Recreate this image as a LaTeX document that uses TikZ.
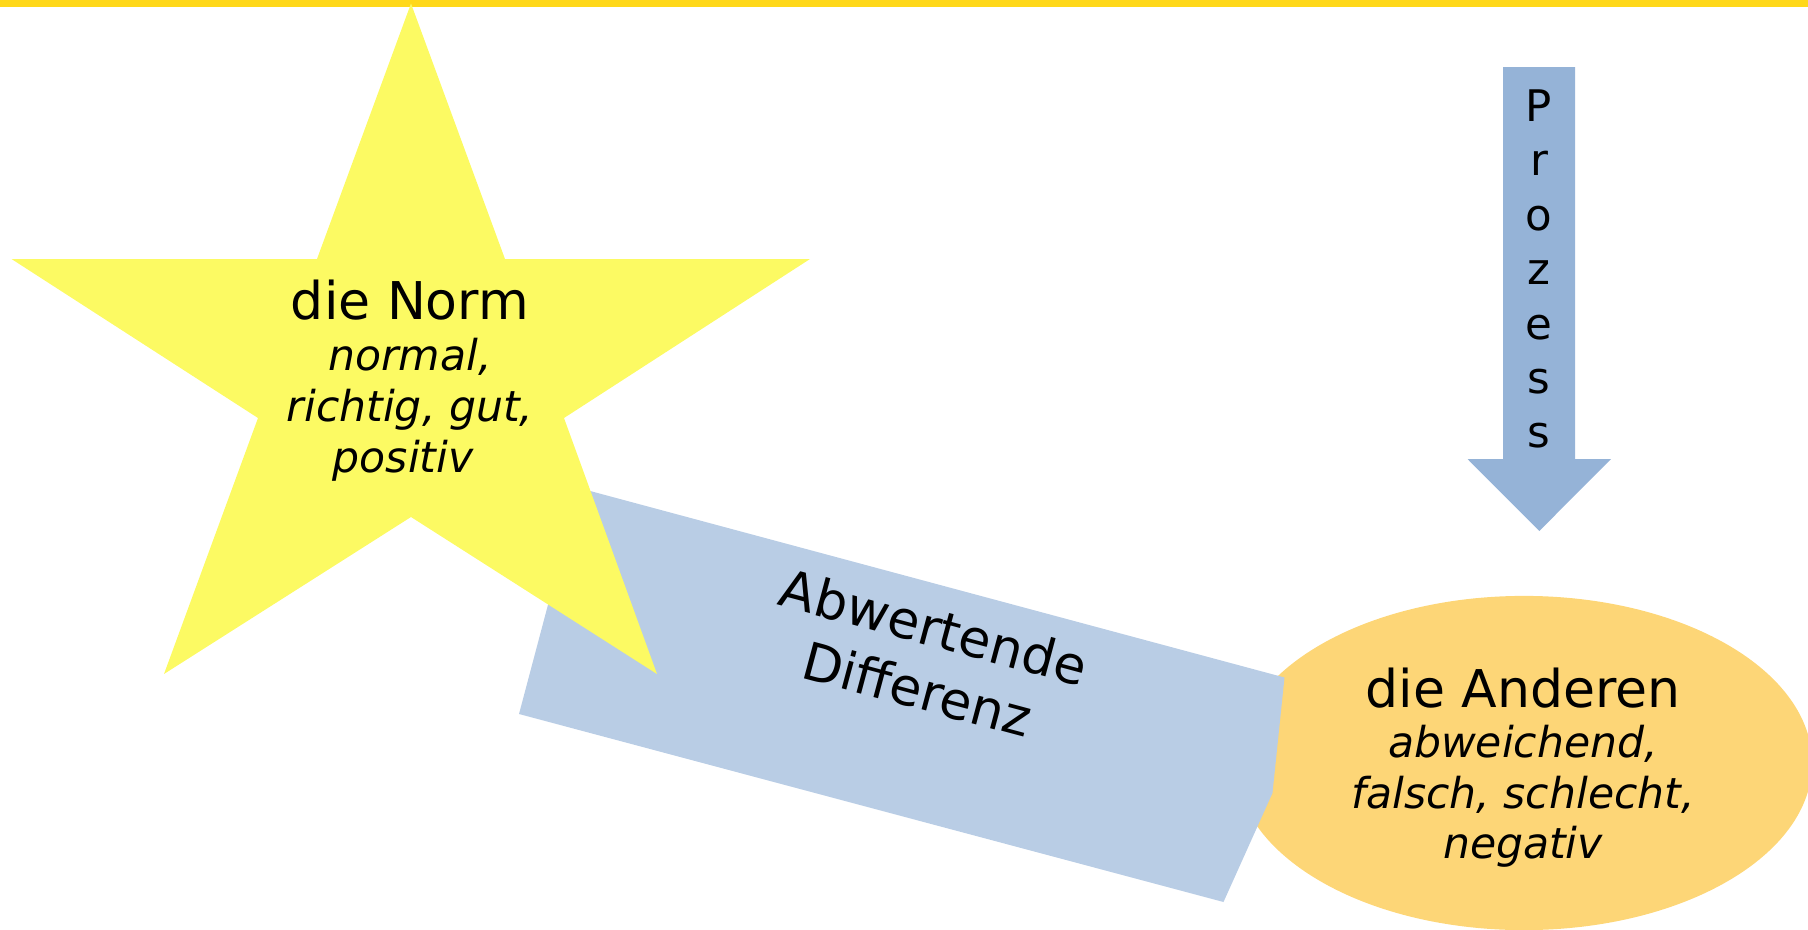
\documentclass[tikz,border=0pt]{standalone}
\usepackage{fontspec}
\setmainfont{DejaVu Sans}
\definecolor{topbar}{RGB}{255,216,26}
\definecolor{starfill}{RGB}{252,250,99}
\definecolor{rectfill}{RGB}{185,205,229}
\definecolor{arrowfill}{RGB}{149,179,215}
\definecolor{ellfill}{RGB}{253,214,119}
\begin{document}
\begin{tikzpicture}[x=0.01cm,y=-0.01cm,
  txt/.style={inner sep=0pt, outer sep=0pt, align=center, text=black},
  bigtxt/.style={txt, font=\fontsize{14.8pt}{18.2pt}\selectfont},
  starfont/.style={txt, font=\fontsize{12.1pt}{14.51pt}\selectfont\itshape},
  ellfont/.style={txt, font=\fontsize{12.1pt}{14.37pt}\selectfont\itshape},
  profont/.style={txt, font=\fontsize{12.38pt}{15.48pt}\selectfont}]
\useasboundingbox (0,0) rectangle (1808,930);
% top bar
\fill[topbar] (0,0) rectangle (1808,6.5);
% ellipse (die Anderen)
\fill[ellfill] (1524,763) ellipse [x radius=2.88cm, y radius=1.67cm];
% blue band (Abwertende Differenz)
\fill[rectfill] (579,488) -- (1284.5,677.5) -- (1272.5,793) -- (1223.5,902) -- (519,714) -- cycle;
% star (die Norm)
\fill[starfill] (411,3.5) -- (505,259) -- (810,259) -- (564,418) -- (657,674) -- (411,517)
  -- (164,674) -- (258,418) -- (11.5,259) -- (317,259) -- cycle;
% process arrow
\fill[arrowfill] (1503,67) -- (1575,67) -- (1575,459) -- (1611,459) -- (1539.3,531)
  -- (1467.5,459) -- (1503,459) -- cycle;
% texts
\node[starfont] (norm) at (410,381)
  {{\upshape\fontsize{14.8pt}{14.51pt}\selectfont die Norm}\\normal,\\richtig, gut,\\positiv\rule{0.318em}{0pt}};
\node[ellfont] (anderen) at (1523,767.5)
  {{\upshape\fontsize{14.8pt}{14.37pt}\selectfont die Anderen}\\abweichend,\\falsch, schlecht,\\negativ};
\node[bigtxt, rotate=-15] (differenz) at (925.9,657.9) {Abwertende\\Differenz};
\node[profont] (prozess) at (1539,269) {P\\r\\o\\z\\e\\s\\s};
\end{tikzpicture}
\end{document}
